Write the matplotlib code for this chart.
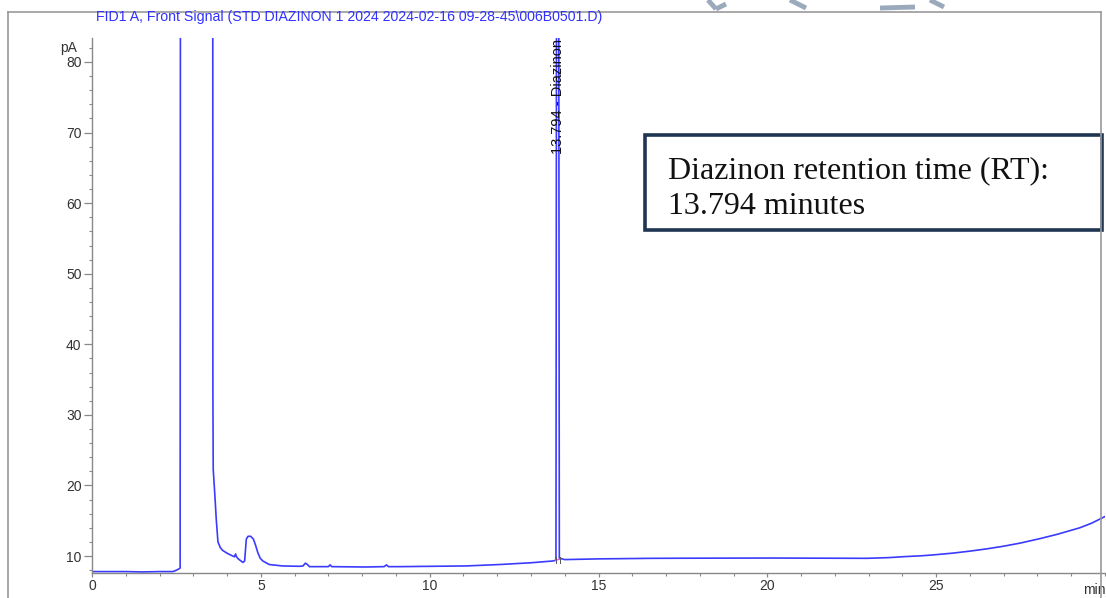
import numpy as np
import matplotlib.pyplot as plt
from matplotlib.lines import Line2D
from matplotlib.patches import Rectangle
from matplotlib.ticker import MultipleLocator

plt.rcParams['font.family'] = ['Liberation Sans', 'DejaVu Sans']

# signal (min, pA); 200 = off scale
time = [0.0, 0.5, 1.0, 1.5, 2.0, 2.4, 2.5, 2.58, 2.61, 2.63, 3.57, 3.58, 3.59,
        3.64, 3.68, 3.73, 3.8, 3.87, 4.0, 4.17, 4.22, 4.25, 4.28, 4.33, 4.47,
        4.52, 4.57, 4.62, 4.7, 4.78, 4.84, 4.91, 4.98, 5.06, 5.25, 5.64, 6.14,
        6.25, 6.32, 6.38, 6.44, 7.0, 7.05, 7.1, 8.1, 8.65, 8.72, 8.78, 9.1,
        11.08, 12.07, 13.0, 13.64, 13.74, 13.78, 13.80, 13.84, 14.0, 15.0,
        16.6, 18.0, 20.1, 21.5, 22.95, 23.6, 24.1, 24.6, 25.0, 25.5, 26.0,
        26.5, 27.0, 27.5, 28.1, 28.6, 29.25, 29.6, 30.0]
signal = [7.8, 7.8, 7.8, 7.75, 7.8, 7.8, 8.0, 8.2, 8.3, 200, 200, 33.7, 22.3,
          18.5, 15.2, 12.0, 11.2, 10.8, 10.4, 10.0, 9.9, 10.3, 9.9, 9.6, 9.1,
          9.3, 12.4, 12.8, 12.8, 12.4, 11.6, 10.5, 9.7, 9.3, 8.8, 8.6, 8.55,
          8.6, 9.0, 8.8, 8.5, 8.5, 8.75, 8.5, 8.45, 8.5, 8.75, 8.5, 8.5,
          8.6, 8.8, 9.05, 9.3, 9.4, 200, 200, 9.7, 9.5, 9.6,
          9.68, 9.7, 9.72, 9.7, 9.68, 9.78, 9.93, 10.05, 10.2, 10.42, 10.7,
          11.02, 11.4, 11.85, 12.5, 13.1, 14.0, 14.65, 15.6]

peak_rt = 13.794
peak_name = "Diazinon"
title = "FID1 A, Front Signal (STD DIAZINON 1 2024 2024-02-16 09-28-45\\006B0501.D)"

W, H = 1106, 598
fig = plt.figure(figsize=(W / 100, H / 100), dpi=100)
ax = fig.add_axes([92 / W, (H - 573) / H, (1105 - 92) / W, (573 - 38) / H])

ax.plot(time, signal, color='#3b3bff', lw=1.2)

# integration baseline marks at the peak
ax.plot([13.73, 13.85], [9.4, 9.55], color='#ff40ff', lw=0.9)
ax.plot([13.73, 13.73], [9.0, 9.9], color='#555555', lw=0.7)
ax.plot([13.85, 13.85], [9.0, 9.9], color='#555555', lw=0.7)

ax.set_xlim(0, 30)
ax.set_ylim(7.6, 83.4)

ax.xaxis.set_minor_locator(MultipleLocator(1))
ax.yaxis.set_minor_locator(MultipleLocator(2))
ax.set_yticks(np.arange(10, 81, 10))
ax.set_xticks([0, 5, 10, 15, 20, 25])

for s in ['top', 'right']:
    ax.spines[s].set_visible(False)
for s in ['left', 'bottom']:
    ax.spines[s].set_color('#888888')
    ax.spines[s].set_linewidth(1.0)
ax.tick_params(axis='y', which='major', length=5.5, color='#888888', labelsize=10,
               labelcolor='#333333', width=0.9, pad=2)
ax.tick_params(axis='y', which='minor', length=2.5, color='#888888', width=0.8)
ax.tick_params(axis='x', which='major', length=3, color='#888888', labelsize=10,
               labelcolor='#333333', width=0.9, pad=1)
ax.tick_params(axis='x', which='minor', length=2.5, color='#888888', width=0.8)

ax.text(-0.45, 82, "pA", ha='right', va='center', fontsize=10, color='#333333')
ax.annotate("min", xy=(1, 0), xycoords='axes fraction', xytext=(1, -10),
            textcoords='offset pixels', ha='right', va='top', fontsize=10,
            color='#333333', annotation_clip=False)

ax.text(peak_rt, 66.9, f"{peak_rt:.3f} - {peak_name}", rotation=90, ha='center',
        va='bottom', fontsize=10.5, color='#111111', clip_on=False)

fig.text(96 / W, 1 - 17 / H, title, ha='left', va='center', fontsize=10.2,
         color='#3030ff')

# outer frame
fig.add_artist(Line2D([8 / W, 8 / W], [0, 1 - 12 / H], color='#999999', lw=1.2))
fig.add_artist(Line2D([8 / W, 1101 / W], [1 - 12 / H, 1 - 12 / H], color='#999999', lw=1.2))
fig.add_artist(Line2D([1101 / W, 1101 / W], [0, 1 - 12 / H], color='#999999', lw=1.2))

# faint watermark strokes along the top edge
for x0, x1, y0, y1 in [(708, 716, 0, 9), (716, 726, 9, 4), (790, 806, 0, 8),
                       (880, 915, 8, 7), (930, 944, 0, 7)]:
    fig.add_artist(Line2D([x0 / W, x1 / W], [1 - y0 / H, 1 - y1 / H],
                          color='#9aa9bb', lw=3.5, solid_capstyle='butt'))

# annotation box
fig.add_artist(Rectangle((645 / W, 1 - 230 / H), (1102 - 645) / W, 95 / H,
                         fill=True, facecolor='white', edgecolor='#1f3552',
                         lw=2.6, transform=fig.transFigure))
fig.text(668 / W, 1 - 178 / H, "Diazinon retention time (RT):", ha='left',
         va='baseline', fontsize=23, family='Liberation Serif', color='#111111')
fig.text(668 / W, 1 - 214 / H, f"{peak_rt:.3f} minutes", ha='left',
         va='baseline', fontsize=23, family='Liberation Serif', color='#111111')

fig.savefig('out.png', dpi=100)
